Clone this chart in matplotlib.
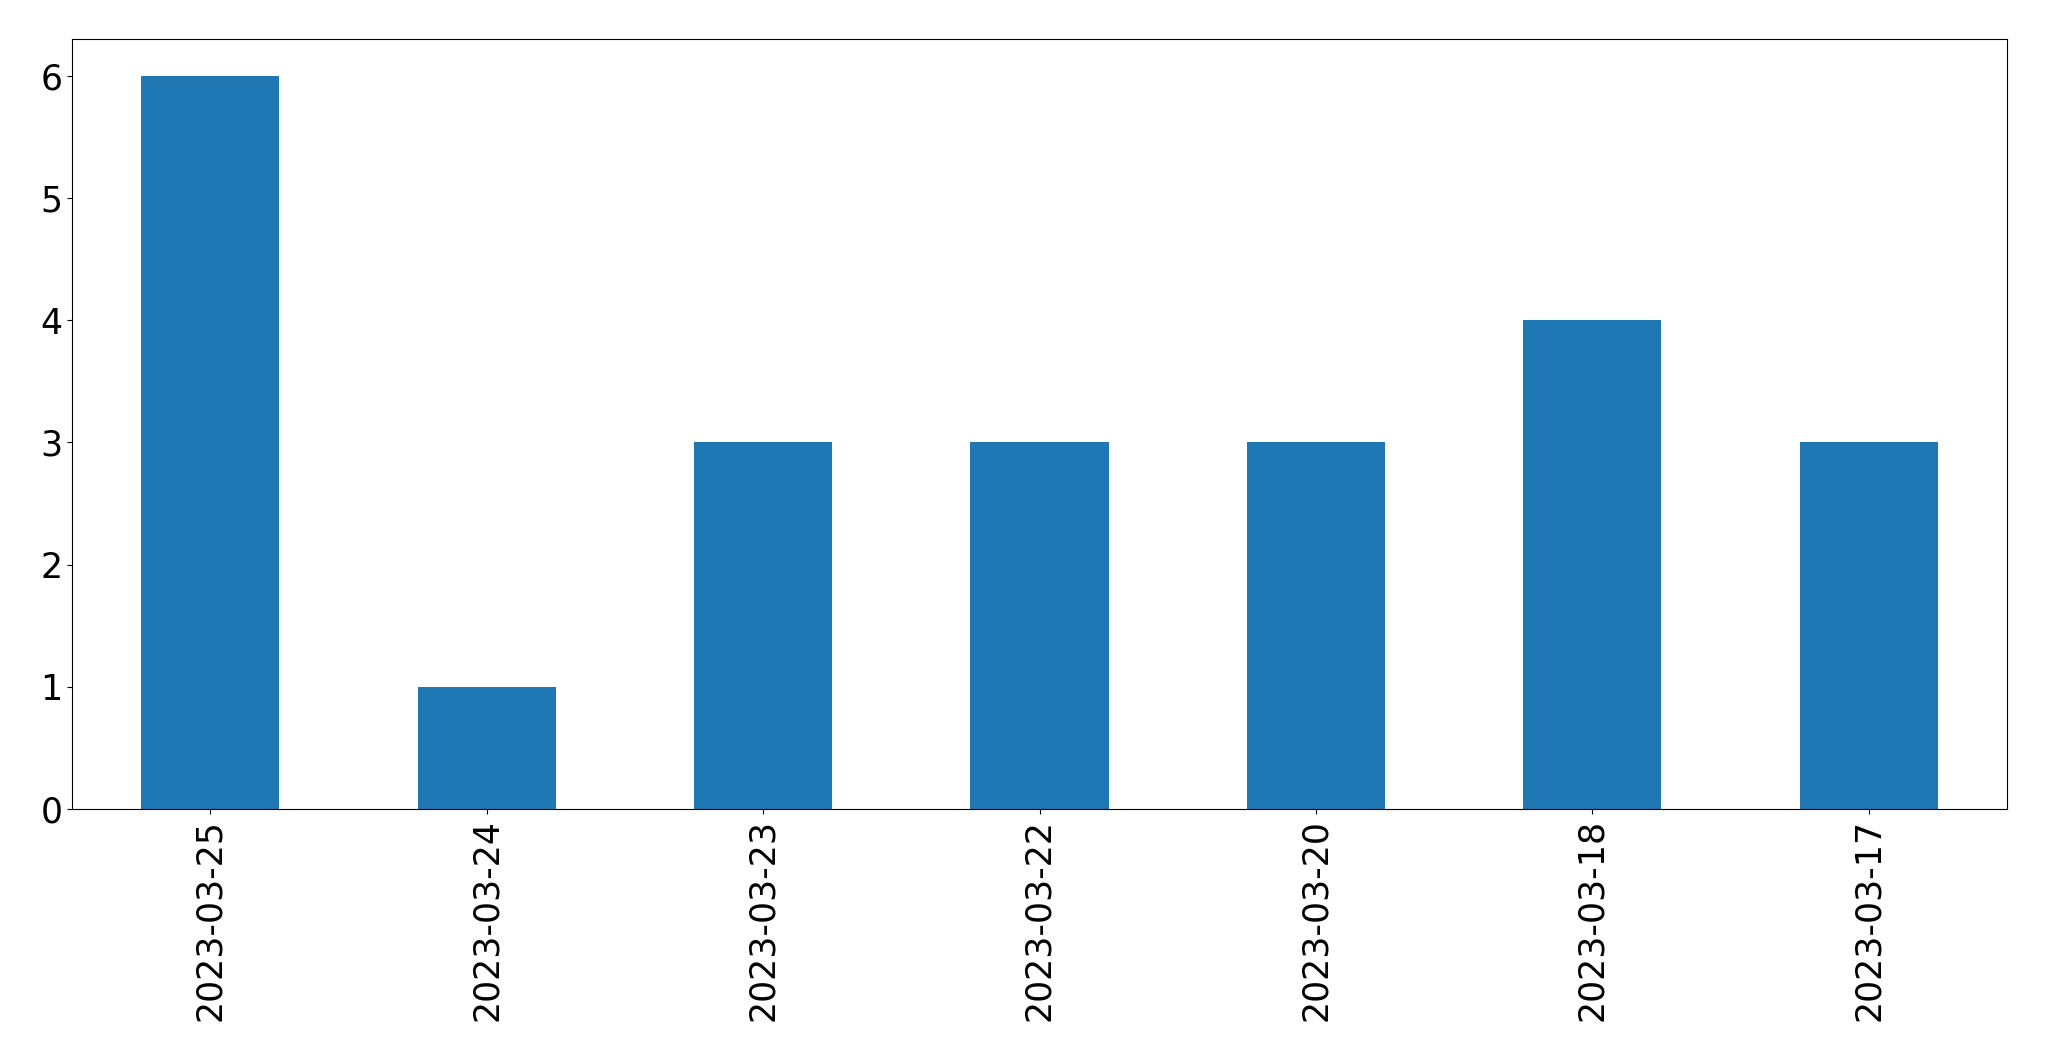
import matplotlib
matplotlib.use("Agg")
import matplotlib.pyplot as plt
import numpy as np

# 数据
dates = ["2023-03-25", "2023-03-24", "2023-03-23", "2023-03-22",
         "2023-03-20", "2023-03-18", "2023-03-17"]
counts = [6, 1, 3, 3, 3, 4, 3]

fig = plt.figure(figsize=(20.49, 10.61), dpi=100)
ax = fig.add_axes([72 / 2049, 1 - 809 / 1061, (2007 - 72) / 2049, (809 - 39) / 1061])

x = np.arange(len(dates))
ax.bar(x, counts, width=0.5, color="#1f77b4")
ax.set_xlim(-0.5, len(dates) - 0.5)
ax.set_xticks(x)
ax.set_xticklabels(dates, rotation=90)
ax.tick_params(axis="both", labelsize=25)

plt.savefig("out.png", dpi=100)
